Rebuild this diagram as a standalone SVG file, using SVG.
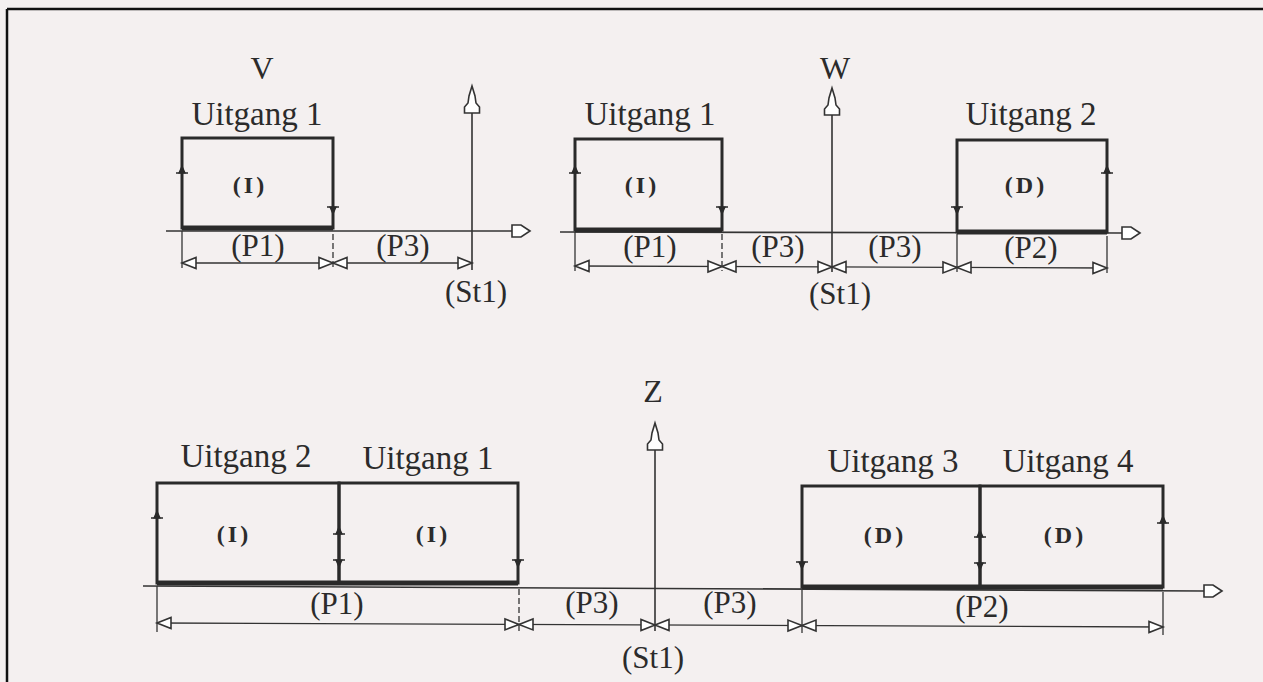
<svg xmlns="http://www.w3.org/2000/svg" width="1263" height="682" viewBox="0 0 1263 682">
<style>
text{font-family:"Liberation Serif","Times New Roman",serif;fill:#2b2b2b;text-anchor:middle}
.lbl{font-size:33px}
.dim{font-size:31px}
.axl{font-size:32px}
.sym{font-size:24px;font-weight:bold;letter-spacing:3px}
.box{fill:none;stroke:#2a2a2a;stroke-width:3}
.base{stroke:#2a2a2a;stroke-width:5}
.ax{stroke:#333;stroke-width:1.6;fill:none}
.dl{stroke:#333;stroke-width:1.3;fill:none}
.ext{stroke:#333;stroke-width:1.3;fill:none}
.dash{stroke-dasharray:6,3}
.ah{fill:#fff;stroke:#333;stroke-width:1.6}
.tk{fill:#2a2a2a;stroke:#2a2a2a;stroke-width:1.2}
</style>
<defs>
<polygon id="ar" class="ah" points="0,0 -14,-5.5 -14,5.5"/>
<polygon id="al" class="ah" points="0,0 14,-5.5 14,5.5"/>
<polygon id="hx" class="ah" points="0,0 -9,-6 -18,-6 -18,6 -9,6"/>
<polygon id="vx" class="ah" points="0,0 -3,10 -4,17 -7.5,21 -7.5,27 7.5,27 7.5,21 4,17 3,10"/>
<g id="tu"><line x1="-6" y1="0" x2="6" y2="0" stroke="#2a2a2a" stroke-width="1.5"/><polygon class="tk" points="0,-7 -3,0 3,0"/></g>
<g id="td"><line x1="-6" y1="0" x2="6" y2="0" stroke="#2a2a2a" stroke-width="1.5"/><polygon class="tk" points="0,7 -3,0 3,0"/></g>
</defs>
<rect x="0" y="0" width="1263" height="682" fill="#f4f0f0"/>
<line x1="7" y1="9" x2="1263" y2="9" stroke="#111" stroke-width="2.5"/>
<line x1="7" y1="9" x2="7" y2="682" stroke="#111" stroke-width="2.5"/>

<g id="connectors">
<!-- V -->
<line class="ax" x1="166" y1="231" x2="512" y2="231"/>
<use href="#hx" x="530" y="231"/>
<line class="ax" x1="472" y1="110" x2="472" y2="270"/>
<use href="#vx" x="472" y="86"/>
<line class="ext" x1="182" y1="231" x2="182" y2="268"/>
<line class="ext dash" x1="333" y1="234" x2="333" y2="268"/>
<line class="dl" x1="182" y1="263" x2="472" y2="263"/>
<use href="#al" x="182" y="263"/><use href="#ar" x="333" y="263"/>
<use href="#al" x="333" y="263"/><use href="#ar" x="472" y="263"/>
<!-- W -->
<line class="ax" x1="560" y1="232" x2="1122" y2="233"/>
<use href="#hx" x="1140" y="233"/>
<line class="ax" x1="832" y1="112" x2="832" y2="272"/>
<use href="#vx" x="832" y="88"/>
<line class="ext" x1="575" y1="232" x2="575" y2="271"/>
<line class="ext dash" x1="722" y1="234" x2="722" y2="271"/>
<line class="ext" x1="957" y1="234" x2="957" y2="272"/>
<line class="ext" x1="1107" y1="236" x2="1107" y2="273"/>
<line class="dl" x1="575" y1="266" x2="1107" y2="268"/>
<use href="#al" x="575" y="266"/><use href="#ar" x="722" y="266.5"/>
<use href="#al" x="722" y="266.5"/><use href="#ar" x="832" y="267"/>
<use href="#al" x="832" y="267"/><use href="#ar" x="957" y="267.4"/>
<use href="#al" x="957" y="267.4"/><use href="#ar" x="1107" y="268"/>
<!-- Z -->
<line class="ax" x1="143" y1="586" x2="1204" y2="591"/>
<use href="#hx" x="1222" y="591"/>
<line class="ax" x1="655" y1="447" x2="655" y2="631"/>
<use href="#vx" x="655" y="423"/>
<line class="ext" x1="157" y1="586" x2="157" y2="632"/>
<line class="ext dash" x1="519" y1="589" x2="519" y2="631"/>
<line class="ext" x1="802" y1="590" x2="802" y2="633"/>
<line class="ext" x1="1163" y1="592" x2="1163" y2="635"/>
<line class="dl" x1="157" y1="623" x2="1163" y2="627"/>
<use href="#al" x="157" y="623"/><use href="#ar" x="519" y="624.4"/>
<use href="#al" x="519" y="624.4"/><use href="#ar" x="655" y="625"/>
<use href="#al" x="655" y="625"/><use href="#ar" x="802" y="625.6"/>
<use href="#al" x="802" y="625.6"/><use href="#ar" x="1163" y="627"/>
</g>

<g id="panel-V">
<text class="axl" x="262" y="79">V</text>
<text class="dim" x="258" y="256">(P1)</text>
<text class="dim" x="403" y="256">(P3)</text>
<text class="dim" x="476" y="302">(St1)</text>
</g>
<g id="V-uitgang1">
<text class="lbl" x="257" y="125">Uitgang 1</text>
<rect class="box" x="182" y="138" width="151" height="90"/>
<line class="base" x1="182" y1="228" x2="333" y2="228"/>
<text class="sym" x="250" y="193">(I)</text>
<use href="#tu" x="182" y="173"/><use href="#td" x="333" y="207"/>
</g>

<g id="panel-W">
<text class="axl" x="835" y="79">W</text>
<text class="dim" x="650" y="257">(P1)</text>
<text class="dim" x="778" y="257">(P3)</text>
<text class="dim" x="895" y="257">(P3)</text>
<text class="dim" x="1031" y="258">(P2)</text>
<text class="dim" x="840" y="304">(St1)</text>
</g>
<g id="W-uitgang1">
<text class="lbl" x="650" y="125">Uitgang 1</text>
<rect class="box" x="575" y="139" width="147" height="91"/>
<line class="base" x1="575" y1="230" x2="722" y2="230"/>
<text class="sym" x="642" y="193">(I)</text>
<use href="#tu" x="575" y="173"/><use href="#td" x="722" y="207"/>
</g>
<g id="W-uitgang2">
<text class="lbl" x="1031" y="125">Uitgang 2</text>
<rect class="box" x="957" y="140" width="150" height="92"/>
<line class="base" x1="957" y1="232" x2="1107" y2="232"/>
<text class="sym" x="1026" y="193">(D)</text>
<use href="#td" x="957" y="207"/><use href="#tu" x="1107" y="173"/>
</g>

<g id="panel-Z">
<text class="axl" x="653" y="402">Z</text>
<text class="dim" x="337" y="614">(P1)</text>
<text class="dim" x="592" y="613">(P3)</text>
<text class="dim" x="730" y="613">(P3)</text>
<text class="dim" x="982" y="617">(P2)</text>
<text class="dim" x="653" y="668">(St1)</text>
</g>
<g id="Z-uitgang2">
<text class="lbl" x="246" y="467">Uitgang 2</text>
<rect class="box" x="157" y="483" width="182" height="100"/>
<line class="base" x1="157" y1="583" x2="339" y2="583"/>
<text class="sym" x="234" y="542">(I)</text>
<use href="#tu" x="157" y="518"/>
</g>
<g id="Z-uitgang1">
<text class="lbl" x="428" y="469">Uitgang 1</text>
<rect class="box" x="339" y="483" width="179" height="100"/>
<line class="base" x1="339" y1="583" x2="518" y2="583"/>
<text class="sym" x="433" y="542">(I)</text>
<use href="#tu" x="339" y="534"/><use href="#td" x="339" y="560"/>
<use href="#td" x="518" y="560"/>
</g>
<g id="Z-uitgang3">
<text class="lbl" x="893" y="472">Uitgang 3</text>
<rect class="box" x="802" y="486" width="178" height="101"/>
<line class="base" x1="802" y1="587" x2="980" y2="587"/>
<text class="sym" x="885" y="543">(D)</text>
<use href="#td" x="802" y="562"/>
</g>
<g id="Z-uitgang4">
<text class="lbl" x="1068" y="472">Uitgang 4</text>
<rect class="box" x="980" y="486" width="183" height="101"/>
<line class="base" x1="980" y1="587" x2="1163" y2="587"/>
<text class="sym" x="1065" y="543">(D)</text>
<use href="#tu" x="980" y="537"/><use href="#td" x="980" y="563"/>
<use href="#tu" x="1163" y="523"/>
</g>
</svg>
